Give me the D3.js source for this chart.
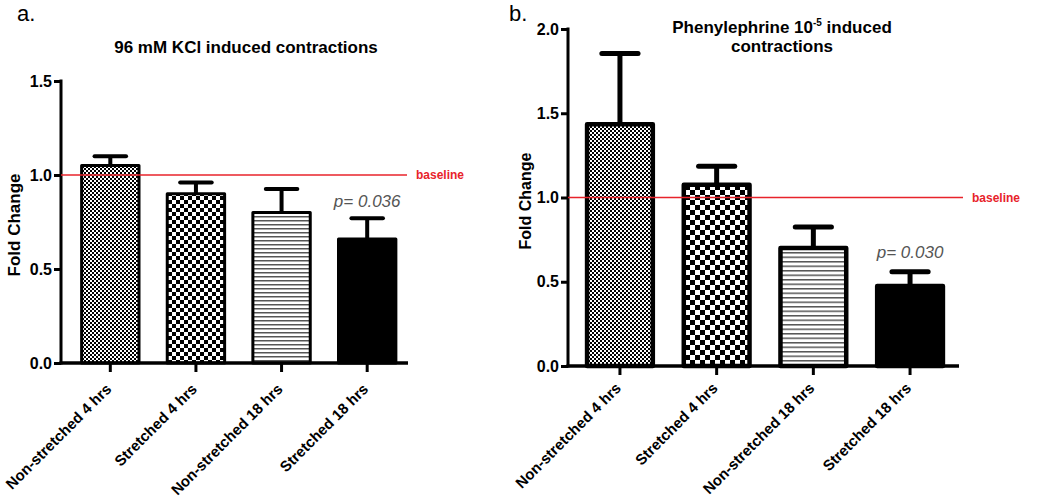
<!DOCTYPE html>
<html>
<head>
<meta charset="utf-8">
<script src="https://cdn.jsdelivr.net/npm/d3@7"></script>
<style>
  html, body { margin: 0; padding: 0; background: #fff; }
  svg { display: block; }
  text { font-family: "Liberation Sans", Arial, sans-serif; }
</style>
</head>
<body>
<svg id="chart" width="1050" height="498"></svg>
<script>
// ---- Data ----
const categories = ["Non-stretched 4 hrs", "Stretched 4 hrs", "Non-stretched 18 hrs", "Stretched 18 hrs"];
const kclMeans = [1.05, 0.90, 0.80, 0.66];
const kclSem   = [0.05, 0.06, 0.125, 0.11];
const kclTicks = [0.0, 0.5, 1.0, 1.5];
const pheMeans = [1.435, 1.075, 0.70, 0.475];
const pheSem   = [0.42, 0.11, 0.125, 0.085];
const pheTicks = [0.0, 0.5, 1.0, 1.5, 2.0];
const baselineValue = 1.0;
const kclP = "p= 0.036";
const pheP = "p= 0.030";

const svg = d3.select("#chart");
const defs = svg.append("defs");

function checkPattern(id, s) {
  const p = defs.append("pattern").attr("id", id)
    .attr("patternUnits", "userSpaceOnUse")
    .attr("width", 2 * s).attr("height", 2 * s);
  p.append("rect").attr("width", 2 * s).attr("height", 2 * s).attr("fill", "#fff");
  p.append("rect").attr("width", s).attr("height", s).attr("fill", "#000");
  p.append("rect").attr("x", s).attr("y", s).attr("width", s).attr("height", s).attr("fill", "#000");
}
function stripePattern(id, period, lw) {
  const p = defs.append("pattern").attr("id", id)
    .attr("patternUnits", "userSpaceOnUse")
    .attr("width", 10).attr("height", period);
  p.append("rect").attr("width", 10).attr("height", period).attr("fill", "#fff");
  p.append("rect").attr("y", 0).attr("width", 10).attr("height", lw).attr("fill", "#555");
}
checkPattern("fineA", 2);
checkPattern("coarseA", 4);
stripePattern("stripeA", 4, 1.5);
checkPattern("fineB", 2);
checkPattern("coarseB", 5);
stripePattern("stripeB", 4.5, 1.5);

function panel(cfg) {
  const g = svg.append("g");
  const y = d3.scaleLinear().domain([0, cfg.ticks[cfg.ticks.length - 1]]).range([cfg.y0, cfg.y1]);
  const x = d3.scaleBand().domain(categories).range(cfg.xRange)
    .paddingInner(cfg.pad).paddingOuter(cfg.pad / 2);

  // bars
  g.selectAll("rect.bar").data(categories).enter().append("rect")
    .attr("class", "bar")
    .attr("x", d => x(d))
    .attr("width", x.bandwidth())
    .attr("y", (d, i) => y(cfg.means[i]))
    .attr("height", (d, i) => y(0) - y(cfg.means[i]))
    .attr("fill", (d, i) => cfg.fills[i])
    .attr("stroke", "#000")
    .attr("stroke-width", cfg.barStroke)
    .attr("stroke-linejoin", "round");

  // error bars
  const capW = x.bandwidth() * 0.55;
  categories.forEach((d, i) => {
    const cx = x(d) + x.bandwidth() / 2;
    const top = y(cfg.means[i] + cfg.sem[i]);
    g.append("line").attr("x1", cx).attr("x2", cx)
      .attr("y1", y(cfg.means[i])).attr("y2", top)
      .attr("stroke", "#000").attr("stroke-width", cfg.errStroke);
    g.append("line").attr("x1", cx - capW / 2).attr("x2", cx + capW / 2)
      .attr("y1", top).attr("y2", top)
      .attr("stroke", "#000").attr("stroke-width", cfg.errStroke)
      .attr("stroke-linecap", "round");
  });

  // y axis
  const yAxis = d3.axisLeft(y).tickValues(cfg.ticks).tickFormat(d3.format(".1f"))
    .tickSize(7).tickPadding(2).tickSizeOuter(0);
  const ya = g.append("g").attr("transform", `translate(${cfg.axisX},0)`).call(yAxis);
  ya.select(".domain").remove();
  ya.selectAll(".tick line").attr("stroke", "#000").attr("stroke-width", 3);
  ya.selectAll(".tick text").attr("font-size", 16).attr("font-weight", "bold")
    .attr("font-family", "'Liberation Sans', Arial, sans-serif").attr("fill", "#000");
  g.append("line").attr("x1", cfg.axisX).attr("x2", cfg.axisX)
    .attr("y1", y(0) + 1.5).attr("y2", y(cfg.ticks[cfg.ticks.length - 1]) - 1.5)
    .attr("stroke", "#000").attr("stroke-width", 3);

  // x axis
  const xAxis = d3.axisBottom(x).tickSize(9).tickSizeOuter(0).tickFormat("");
  const xa = g.append("g").attr("transform", `translate(0,${y(0)})`).call(xAxis);
  xa.select(".domain").remove();
  xa.selectAll(".tick line").attr("stroke", "#000").attr("stroke-width", 3);
  g.append("line").attr("x1", cfg.axisX - 1.5).attr("x2", cfg.xEnd)
    .attr("y1", y(0)).attr("y2", y(0))
    .attr("stroke", "#000").attr("stroke-width", 3.5);

  // x labels
  categories.forEach(d => {
    const cx = x(d) + x.bandwidth() / 2 + 2;
    const ly = y(0) + cfg.labelOffset;
    g.append("text").attr("transform", `translate(${cx},${ly}) rotate(-45)`)
      .attr("text-anchor", "end").attr("font-size", 15).attr("font-weight", "bold")
      .attr("fill", "#000").text(d);
  });

  // y title
  g.append("text").attr("transform", `translate(${cfg.yTitleX},${cfg.yTitleY}) rotate(-90)`)
    .attr("text-anchor", "middle").attr("font-size", cfg.yTitleSize).attr("font-weight", "bold")
    .attr("fill", "#000").text("Fold Change");

  // baseline
  g.append("line").attr("x1", cfg.axisX).attr("x2", cfg.baseEnd)
    .attr("y1", y(baselineValue)).attr("y2", y(baselineValue))
    .attr("stroke", "#e8232b").attr("stroke-width", 1.5);
  g.append("text").attr("x", cfg.baseEnd + 9).attr("y", y(baselineValue) + 4)
    .attr("font-size", 12).attr("font-weight", "bold").attr("fill", "#e8232b")
    .text("baseline");

  // p value
  const last = categories[3];
  g.append("text").attr("x", x(last) + x.bandwidth() / 2)
    .attr("y", y(cfg.means[3] + cfg.sem[3]) - cfg.pOffset)
    .attr("text-anchor", "middle").attr("font-size", 17).attr("font-style", "italic")
    .attr("fill", "#555").text(cfg.p);

  // panel letter
  svg.append("text").attr("x", cfg.letterX).attr("y", cfg.letterY)
    .attr("font-family", "'DejaVu Sans', sans-serif").attr("font-size", 22)
    .attr("fill", "#000").text(cfg.letter);
  return g;
}

panel({
  means: kclMeans, sem: kclSem, ticks: kclTicks,
  y0: 363, y1: 81, xRange: [67.5, 410], pad: 0.33,
  axisX: 61, xEnd: 408, baseEnd: 407,
  fills: ["url(#fineA)", "url(#coarseA)", "url(#stripeA)", "#000"],
  barStroke: 3, errStroke: 4,
  yTitleX: 20, yTitleY: 225, yTitleSize: 17,
  p: kclP, pOffset: 11, labelOffset: 27,
  letter: "a.", letterX: 17, letterY: 21
});

panel({
  means: pheMeans, sem: pheSem, ticks: pheTicks,
  y0: 366, y1: 29, xRange: [571.6, 958.4], pad: 0.32,
  axisX: 568, xEnd: 959, baseEnd: 963,
  fills: ["url(#fineB)", "url(#coarseB)", "url(#stripeB)", "#000"],
  barStroke: 4.5, errStroke: 5,
  yTitleX: 531, yTitleY: 201, yTitleSize: 16,
  p: pheP, pOffset: 14, labelOffset: 23,
  letter: "b.", letterX: 509, letterY: 21
});

// titles
svg.append("text").attr("x", 246).attr("y", 53).attr("text-anchor", "middle")
  .attr("font-size", 17).attr("font-weight", "bold").attr("fill", "#000")
  .text("96 mM KCl induced contractions");
const t2 = svg.append("text").attr("x", 782).attr("y", 33).attr("text-anchor", "middle")
  .attr("font-size", 17).attr("font-weight", "bold").attr("fill", "#000");
t2.append("tspan").text("Phenylephrine 10");
t2.append("tspan").attr("font-size", 10).attr("dy", -7).text("-5");
t2.append("tspan").attr("dy", 7).text(" induced");
svg.append("text").attr("x", 782).attr("y", 52).attr("text-anchor", "middle")
  .attr("font-size", 17).attr("font-weight", "bold").attr("fill", "#000")
  .text("contractions");
</script>
</body>
</html>
